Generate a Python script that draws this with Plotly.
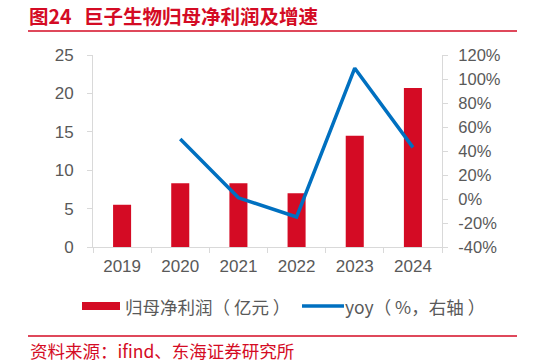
import plotly.graph_objects as go

years = ["2019", "2020", "2021", "2022", "2023", "2024"]
profit = [5.5, 8.3, 8.3, 7.0, 14.5, 20.7]
yoy = [None, 50, 1, -15, 109, 43]
left_ticks = [0, 5, 10, 15, 20, 25]
right_ticks = [-40, -20, 0, 20, 40, 60, 80, 100, 120]

title_num = "图24"
title_text = "巨子生物归母净利润及增速"
source_text = "资料来源：ifind、东海证券研究所"
bar_name = "归母净利润（ 亿元 ）"
line_name = "yoy（ %，右轴 ）"

RED = "#D40B24"
BLUE = "#0070C0"
GRAY = "#595959"
AXIS = "#D9D9D9"
FONT = "Liberation Sans, Arial, Noto Sans CJK SC, sans-serif"
CJK = "Noto Sans CJK SC, Liberation Sans, sans-serif"

W, H = 533, 364
L, R, T, B = 93, 442, 55, 247


def px(x):
    return (x - L) / (R - L)


def py(y):
    return (B - y) / (B - T)


fig = go.Figure()
fig.add_trace(go.Bar(x=years, y=profit, name=bar_name, marker=dict(color=RED, line=dict(width=0)),
                     width=0.31, yaxis="y", showlegend=False))
fig.add_trace(go.Scatter(x=years, y=yoy, name=line_name, mode="lines",
                         line=dict(color=BLUE, width=3.5), yaxis="y2", showlegend=False))

fig.update_layout(
    width=W, height=H,
    margin=dict(l=L, r=W - R, t=T, b=H - B),
    paper_bgcolor="white", plot_bgcolor="white",
    font=dict(family=FONT, color=GRAY, size=15),
    xaxis=dict(type="category", showline=True, linecolor=AXIS, linewidth=1,
               ticks="outside", tickson="boundaries", ticklen=5, tickcolor=AXIS,
               showgrid=False, tickfont=dict(size=17, color=GRAY), ticklabelstandoff=4),
    yaxis=dict(range=[0, 25], tickvals=left_ticks, showline=True, linecolor=AXIS,
               ticks="outside", ticklen=5, tickcolor=AXIS, showgrid=False, zeroline=False,
               tickfont=dict(size=17, color=GRAY), ticklabelstandoff=10),
    yaxis2=dict(range=[-40, 120], tickvals=right_ticks, ticktext=[f"{v}%" for v in right_ticks],
                overlaying="y", side="right", showline=True, linecolor=AXIS,
                ticks="outside", ticklen=5, tickcolor=AXIS, showgrid=False, zeroline=False,
                tickfont=dict(size=16.5, color=GRAY), ticklabelstandoff=7),
    showlegend=False,
)

shapes = [
    dict(type="line", xref="paper", yref="paper", x0=px(28), x1=px(517), y0=py(31), y1=py(31),
         line=dict(color=RED, width=1.5)),
    dict(type="line", xref="paper", yref="paper", x0=px(28), x1=px(517), y0=py(336), y1=py(336),
         line=dict(color=RED, width=1.5)),
    dict(type="rect", xref="paper", yref="paper", x0=px(82), x1=px(120), y0=py(310), y1=py(302),
         fillcolor=RED, line=dict(width=0)),
    dict(type="line", xref="paper", yref="paper", x0=px(302), x1=px(344), y0=py(306), y1=py(306),
         line=dict(color=BLUE, width=3.5)),
]
annotations = [
    dict(text=f"<b>{title_num}</b>", xref="paper", yref="paper", x=px(27), y=py(15),
         xanchor="left", yanchor="middle", showarrow=False, font=dict(family=CJK, size=19.5, color=RED)),
    dict(text=f"<b>{title_text}</b>", xref="paper", yref="paper", x=px(82), y=py(15),
         xanchor="left", yanchor="middle", showarrow=False, font=dict(family=CJK, size=19.5, color=RED)),
    dict(text=source_text, xref="paper", yref="paper", x=px(28), y=py(350),
         xanchor="left", yanchor="middle", showarrow=False, font=dict(family=CJK, size=17.5, color=RED)),
    dict(text=bar_name, xref="paper", yref="paper", x=px(123), y=py(306),
         xanchor="left", yanchor="middle", showarrow=False, font=dict(family=CJK, size=17.5, color=GRAY)),
    dict(text=line_name, xref="paper", yref="paper", x=px(343), y=py(306),
         xanchor="left", yanchor="middle", showarrow=False, font=dict(family=CJK, size=17.5, color=GRAY)),
]
fig.update_layout(shapes=shapes, annotations=annotations)

fig.write_html("out.html")
